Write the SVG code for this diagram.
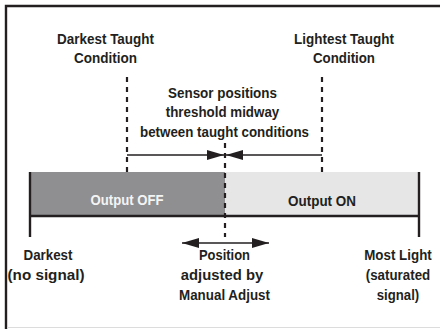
<svg xmlns="http://www.w3.org/2000/svg" width="440" height="329" viewBox="0 0 440 329">
<style>
text{font-family:"Liberation Sans",Arial,sans-serif;font-weight:bold;font-size:15px;fill:#231f20;text-anchor:middle}
.w{fill:#f4f4f4}
.dash{stroke:#231f20;stroke-width:2.2;stroke-dasharray:5 5;fill:none}
.arr{stroke:#231f20;stroke-width:1.6;fill:none}
.edge{stroke:#231f20;stroke-width:2.4;fill:none}
</style>
<defs>
<marker id="ah" markerUnits="userSpaceOnUse" markerWidth="17" markerHeight="10" refX="17" refY="5" orient="auto">
<path d="M0,0 L17,5 L0,10 z" fill="#231f20"/>
</marker>
</defs>
<rect width="440" height="329" fill="#fff"/>
<g id="frame">
<path d="M6,329 V6 H440" stroke="#231f20" stroke-width="2.4" fill="none"/>
<line x1="7" y1="327.5" x2="440" y2="327.5" stroke="#dcdcdc" stroke-width="1"/>
</g>
<g id="bar">
<rect x="30" y="172" width="195" height="44" fill="#8f8f91"/>
<rect x="225" y="172" width="194" height="44" fill="#e6e6e7"/>
<path class="edge" d="M30,172 V237"/>
<path class="edge" d="M419,172 V237"/>
<path class="edge" d="M30,216 H419"/>
<text class="w" x="127" y="205" textLength="73" lengthAdjust="spacingAndGlyphs">Output OFF</text>
<text x="322" y="205.5" textLength="68" lengthAdjust="spacingAndGlyphs">Output ON</text>
</g>
<g id="darkest-taught">
<text x="105.5" y="44" textLength="97" lengthAdjust="spacingAndGlyphs">Darkest Taught</text>
<text x="105.5" y="63" textLength="63" lengthAdjust="spacingAndGlyphs">Condition</text>
</g>
<g id="lightest-taught">
<text x="344" y="44" textLength="100" lengthAdjust="spacingAndGlyphs">Lightest Taught</text>
<text x="344" y="63" textLength="62" lengthAdjust="spacingAndGlyphs">Condition</text>
</g>
<g id="threshold">
<text x="222.5" y="97.5" textLength="109" lengthAdjust="spacingAndGlyphs">Sensor positions</text>
<text x="222.5" y="117" textLength="113.5" lengthAdjust="spacingAndGlyphs">threshold midway</text>
<text x="224.5" y="136.5" textLength="169" lengthAdjust="spacingAndGlyphs">between taught conditions</text>
</g>
<g id="darkest">
<text x="48" y="260" textLength="49" lengthAdjust="spacingAndGlyphs">Darkest</text>
<text x="46" y="280" textLength="77" lengthAdjust="spacingAndGlyphs">(no signal)</text>
</g>
<g id="most-light">
<text x="398" y="260" textLength="67.5" lengthAdjust="spacingAndGlyphs">Most Light</text>
<text x="398" y="280" textLength="64.5" lengthAdjust="spacingAndGlyphs">(saturated</text>
<text x="398" y="300" textLength="42.5" lengthAdjust="spacingAndGlyphs">signal)</text>
</g>
<g id="manual-adjust">
<text x="224.5" y="260" textLength="51" lengthAdjust="spacingAndGlyphs">Position</text>
<text x="222" y="280" textLength="82.5" lengthAdjust="spacingAndGlyphs">adjusted by</text>
<text x="224.5" y="299.5" textLength="91" lengthAdjust="spacingAndGlyphs">Manual Adjust</text>
</g>
<g id="connectors">
<line class="dash" x1="127" y1="77" x2="127" y2="172"/>
<line class="dash" x1="322" y1="77" x2="322" y2="172"/>
<line class="dash" x1="225" y1="143" x2="225" y2="237"/>
<line class="arr" x1="127" y1="155" x2="224" y2="155" marker-end="url(#ah)"/>
<line class="arr" x1="322" y1="155" x2="226" y2="155" marker-end="url(#ah)"/>
<line class="arr" x1="225" y1="243" x2="182" y2="243" marker-end="url(#ah)"/>
<line class="arr" x1="225" y1="243" x2="269" y2="243" marker-end="url(#ah)"/>
</g>
</svg>
